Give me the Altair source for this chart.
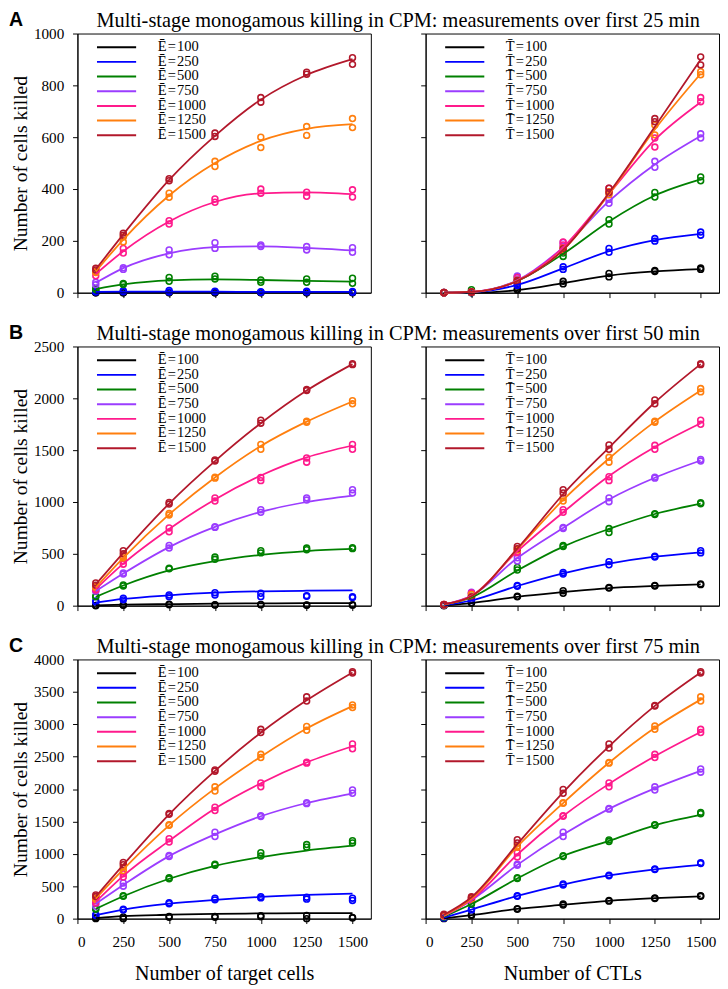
import altair as alt
import pandas as pd

X = [100, 250, 500, 750, 1000, 1250, 1500]
LEVELS = [100, 250, 500, 750, 1000, 1250, 1500]
COLORS = ["#000000", "#0000ff", "#008000", "#9b3dff", "#ff1a8c", "#ff7f0e", "#b2182b"]
TITLES = [
    "Multi-stage monogamous killing in CPM: measurements over first 25 min",
    "Multi-stage monogamous killing in CPM: measurements over first 50 min",
    "Multi-stage monogamous killing in CPM: measurements over first 75 min",
]
LETTERS = ["A", "B", "C"]
YMAX = [1000, 2500, 4000]
YSTEP = [200, 500, 500]

# ---------- Row A (25 min) ----------
A_left_fit = [
    [0, 1, 1, 1, 1, 1, 1],
    [3, 4, 4, 4, 3, 3, 3],
    [14, 32, 48, 51, 49, 46, 43],
    [38, 95, 152, 176, 179, 173, 163],
    [72, 160, 275, 350, 383, 387, 380],
    [82, 205, 375, 500, 586, 632, 650],
    [90, 225, 435, 605, 745, 840, 901],
]
A_left_pts = [
    [[0, 0], [0, 0], [0, 1], [0, 0], [0, 1], [0, 0], [0, 1]],
    [[3, 5], [4, 8], [3, 9], [4, 6], [2, 4], [3, 6], [2, 5]],
    [[12, 16], [32, 36], [44, 59], [53, 64], [40, 49], [40, 53], [36, 56]],
    [[31, 40], [90, 96], [146, 165], [171, 193], [178, 184], [165, 178], [156, 174]],
    [[65, 80], [153, 171], [265, 278], [349, 362], [384, 400], [372, 388], [369, 397]],
    [[78, 84], [196, 215], [368, 384], [487, 507], [560, 600], [607, 641], [637, 672]],
    [[88, 94], [222, 230], [432, 440], [603, 616], [735, 753], [843, 851], [881, 907]],
]
A_right_fit = [
    [0, 0, 10, 37, 66, 82, 91],
    [0, 2, 30, 94, 160, 203, 227],
    [0, 2, 45, 150, 275, 375, 437],
    [0, 3, 48, 175, 353, 495, 605],
    [0, 3, 46, 175, 382, 590, 735],
    [0, 3, 46, 165, 380, 630, 845],
    [0, 3, 45, 165, 385, 640, 900],
]
A_right_pts = [
    [[0, 0], [0, 1], [10, 14], [34, 44], [61, 74], [82, 86], [90, 95]],
    [[0, 1], [1, 3], [28, 33], [90, 100], [156, 171], [199, 209], [222, 234]],
    [[0, 1], [2, 12], [46, 61], [140, 153], [265, 282], [369, 387], [432, 447]],
    [[0, 1], [2, 4], [53, 65], [178, 194], [345, 360], [484, 507], [597, 613]],
    [[0, 1], [2, 4], [46, 59], [184, 196], [390, 403], [562, 597], [737, 753]],
    [[0, 1], [2, 4], [44, 48], [165, 172], [378, 390], [609, 647], [841, 853]],
    [[0, 1], [2, 4], [42, 47], [160, 170], [387, 403], [660, 672], [879, 910]],
]

# ---------- Row B (50 min) ----------
B_left_fit = [
    [3, 9, 15, 20, 22, 24, 25],
    [30, 65, 100, 125, 138, 144, 147],
    [85, 195, 340, 430, 490, 527, 547],
    [140, 310, 565, 760, 905, 1000, 1062],
    [160, 405, 740, 1025, 1255, 1430, 1545],
    [175, 460, 880, 1237, 1540, 1775, 1970],
    [205, 510, 985, 1395, 1760, 2075, 2330],
]
B_left_pts = [
    [[0, 3], [3, 6], [9, 15], [6, 9], [9, 12], [4, 6], [5, 8]],
    [[35, 45], [56, 72], [87, 103], [103, 125], [87, 119], [90, 96], [78, 87]],
    [[85, 90], [190, 200], [355, 362], [447, 469], [509, 531], [540, 556], [550, 560]],
    [[140, 150], [305, 315], [556, 581], [755, 762], [900, 925], [1019, 1040], [1087, 1119]],
    [[150, 165], [400, 431], [712, 750], [1009, 1040], [1206, 1237], [1384, 1425], [1509, 1556]],
    [[175, 185], [460, 475], [875, 890], [1230, 1240], [1509, 1556], [1770, 1780], [1947, 1978]],
    [[197, 219], [500, 531], [980, 995], [1395, 1405], [1760, 1790], [2075, 2085], [2325, 2335]],
]
B_right_fit = [
    [3, 25, 85, 130, 170, 190, 205],
    [5, 50, 190, 312, 405, 472, 515],
    [8, 80, 340, 570, 740, 884, 985],
    [10, 95, 460, 750, 1025, 1234, 1400],
    [12, 95, 525, 900, 1250, 1530, 1760],
    [12, 90, 545, 1020, 1420, 1775, 2075],
    [15, 90, 550, 1075, 1525, 1960, 2330],
]
B_right_pts = [
    [[0, 3], [25, 28], [85, 90], [119, 144], [170, 175], [190, 195], [203, 210]],
    [[3, 6], [50, 60], [188, 195], [305, 320], [394, 425], [470, 476], [509, 531]],
    [[5, 8], [87, 90], [344, 369], [570, 581], [706, 744], [880, 888], [984, 992]],
    [[8, 10], [120, 130], [431, 462], [745, 755], [1003, 1040], [1230, 1240], [1395, 1410]],
    [[8, 12], [115, 122], [509, 519], [900, 925], [1206, 1244], [1509, 1547], [1750, 1790]],
    [[8, 12], [87, 109], [536, 546], [1009, 1040], [1384, 1431], [1770, 1780], [2062, 2094]],
    [[8, 12], [78, 85], [550, 572], [1087, 1119], [1509, 1550], [1947, 1984], [2325, 2335]],
]

# ---------- Row C (75 min) ----------
C_left_fit = [
    [8, 40, 60, 75, 80, 85, 85],
    [55, 140, 232, 290, 335, 365, 385],
    [150, 345, 615, 815, 950, 1050, 1125],
    [230, 520, 965, 1300, 1580, 1785, 1930],
    [260, 660, 1200, 1700, 2090, 2410, 2660],
    [310, 760, 1440, 2010, 2500, 2935, 3280],
    [340, 830, 1610, 2280, 2870, 3370, 3800],
]
C_left_pts = [
    [[0, 15], [0, 25], [20, 35], [20, 35], [30, 45], [0, 50], [10, 20]],
    [[50, 60], [135, 145], [230, 245], [290, 315], [320, 340], [301, 331], [281, 316]],
    [[145, 155], [345, 355], [615, 630], [825, 840], [967, 1018], [1103, 1143], [1168, 1203]],
    [[190, 240], [501, 551], [960, 975], [1268, 1333], [1575, 1590], [1775, 1790], [1935, 1985]],
    [[240, 275], [642, 692], [1183, 1233], [1669, 1719], [2035, 2095], [2400, 2415], [2622, 2697]],
    [[300, 320], [742, 792], [1440, 1450], [1970, 2035], [2486, 2536], [2907, 2967], [3258, 3298]],
    [[341, 366], [832, 867], [1610, 1625], [2275, 2295], [2872, 2922], [3358, 3424], [3790, 3810]],
]
C_right_fit = [
    [5, 55, 150, 215, 275, 315, 345],
    [15, 140, 350, 526, 667, 762, 830],
    [30, 225, 620, 967, 1200, 1440, 1600],
    [40, 285, 830, 1300, 1694, 2010, 2280],
    [45, 290, 990, 1584, 2080, 2506, 2880],
    [50, 310, 1110, 1784, 2406, 2945, 3380],
    [60, 330, 1150, 1950, 2660, 3283, 3800],
]
C_right_pts = [
    [[0, 5], [50, 60], [145, 155], [210, 225], [270, 280], [310, 320], [345, 355]],
    [[10, 20], [135, 145], [345, 355], [520, 535], [660, 672], [757, 767], [850, 862]],
    [[25, 35], [225, 235], [620, 632], [960, 972], [1190, 1215], [1440, 1450], [1620, 1640]],
    [[35, 45], [280, 310], [825, 840], [1268, 1333], [1690, 1700], [1985, 2035], [2260, 2310]],
    [[40, 50], [285, 300], [952, 1018], [1580, 1590], [2035, 2095], [2486, 2536], [2872, 2922]],
    [[45, 55], [305, 320], [1100, 1120], [1780, 1790], [2400, 2410], [2922, 2972], [3358, 3424]],
    [[55, 70], [325, 340], [1168, 1218], [1935, 1995], [2632, 2697], [3280, 3290], [3790, 3810]],
]

SERIF = "Liberation Serif"
W, H = 300, 265
HS = "\u200a"  # hair space around "=" as in the math-set legend labels


def panel(fit, pts, sym, ymax, ystep, left, bottom, letter=None):
    labels = [f"{sym}{HS}={HS}{v}" for v in LEVELS]
    lines = pd.DataFrame(
        [{"lab": labels[i], "x": x, "y": y}
         for i in range(len(labels)) for x, y in zip(X, fit[i])]
    )
    dots = pd.DataFrame(
        [{"lab": labels[i], "x": x, "y": r}
         for i in range(len(labels)) for x, reps in zip(X, pts[i]) for r in reps]
    )
    axis_common = dict(
        labelFont=SERIF, labelFontSize=15.5, labelColor="black",
        titleFont=SERIF, titleFontWeight="normal", titleColor="black",
        tickColor="black", domainColor="black", tickSize=5, grid=False, format="d",
    )
    xenc = alt.X(
        "x:Q",
        scale=alt.Scale(domain=[0, 1600], nice=False, zero=False),
        axis=alt.Axis(
            values=[0, 250, 500, 750, 1000, 1250, 1500],
            labels=bottom,
            title=("Number of target cells" if left else "Number of CTLs") if bottom else None,
            labelPadding=12,
            titlePadding=14,
            titleFontSize=20.5,
            **axis_common,
        ),
    )
    yenc = alt.Y(
        "y:Q",
        scale=alt.Scale(domain=[0, ymax], nice=False),
        axis=alt.Axis(
            values=list(range(0, ymax + 1, ystep)),
            labels=left,
            title="Number of cells killed" if left else None,
            labelPadding=9,
            titlePadding=3,
            titleFontSize=20,
            **axis_common,
        ),
    )
    cscale = alt.Scale(domain=labels, range=COLORS)
    legend = alt.Legend(
        title=None,
        orient="none",
        legendX=32,
        legendY=6,
        symbolType="M-3,0H3",
        symbolSize=178,
        symbolStrokeWidth=2,
        labelFont=SERIF,
        labelFontSize=14.8,
        labelColor="black",
        rowPadding=0,
        labelOffset=34,
    )
    color = alt.Color("lab:N", scale=cscale, sort=labels, legend=legend)
    line_layer = alt.Chart(lines).mark_line(
        strokeWidth=1.8, interpolate="monotone"
    ).encode(x=xenc, y=yenc, color=color)
    dot_layer = alt.Chart(dots).mark_point(
        shape="circle", filled=False, size=36, strokeWidth=1.6, opacity=1
    ).encode(x=xenc, y=yenc, color=color)
    layers = [dot_layer, line_layer]
    if letter is not None:
        tx = alt.Chart(pd.DataFrame({"t": [letter]})).mark_text(
            font="Liberation Sans", fontWeight="bold", fontSize=20,
            align="left", baseline="alphabetic", color="black",
        ).encode(text="t:N", x=alt.value(-70), y=alt.value(-8))
        layers.append(tx)
    return alt.layer(*layers).properties(width=W, height=H)


rows = []
data = [
    (A_left_fit, A_left_pts, A_right_fit, A_right_pts),
    (B_left_fit, B_left_pts, B_right_fit, B_right_pts),
    (C_left_fit, C_left_pts, C_right_fit, C_right_pts),
]
for k, (lf, lp, rf, rp) in enumerate(data):
    bottom = k == 2
    left_p = panel(lf, lp, "Ē", YMAX[k], YSTEP[k], True, bottom, LETTERS[k])
    right_p = panel(rf, rp, "T̄", YMAX[k], YSTEP[k], False, bottom)
    row = alt.hconcat(
        left_p, right_p, spacing=49,
        title=alt.TitleParams(
            TITLES[k], font=SERIF, fontSize=20.8, fontWeight="normal",
            anchor="middle", color="black", offset=-23, dx=35,
        ),
    ).resolve_scale(color="independent").resolve_legend(color="independent")
    rows.append(row)

chart = alt.vconcat(*rows, spacing=21).resolve_scale(
    color="independent"
).resolve_legend(color="independent").properties(
    padding={"left": 0, "top": -10, "right": 0, "bottom": 0}
).configure_view(
    stroke="black", strokeWidth=1
)

chart.save("out.html", embed_options={"renderer": "svg", "actions": False})
